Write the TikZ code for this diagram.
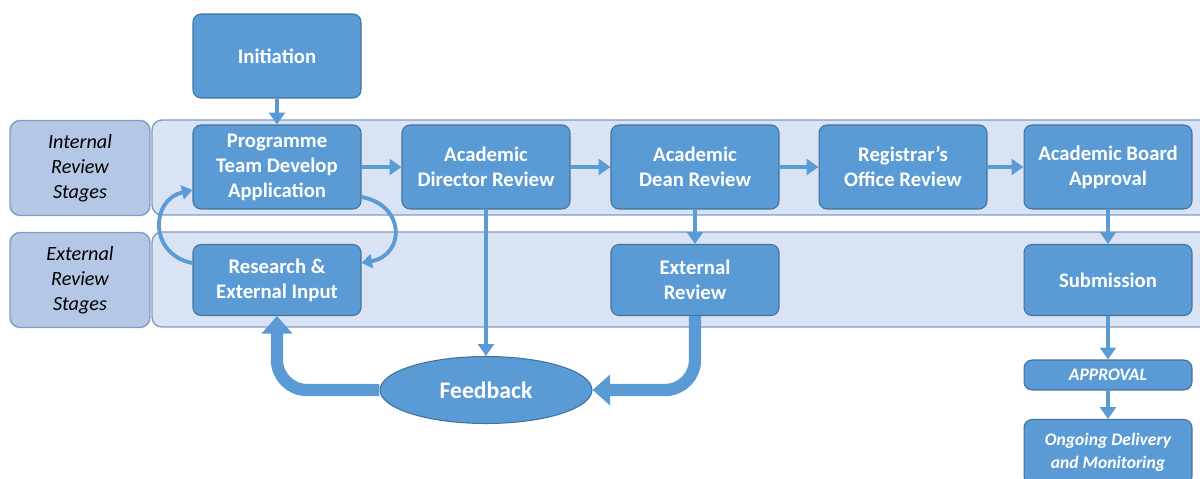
\documentclass[tikz,border=0pt]{standalone}
\usepackage{fontspec}
\setmainfont{Carlito}
\usepackage{tikz}
\usetikzlibrary{positioning,arrows.meta,calc,shapes.geometric}

\definecolor{boxblue}{HTML}{5B9BD5}
\definecolor{boxline}{HTML}{41719C}
\definecolor{bandfill}{HTML}{DAE3F3}
\definecolor{bandline}{HTML}{7F9CC8}
\definecolor{labelfill}{HTML}{B4C7E7}

\tikzset{
  stage/.style={draw=boxline, fill=boxblue, rounded corners=0.16cm, line width=0.6pt,
    minimum width=3.36cm, minimum height=1.68cm, inner sep=0pt, align=center,
    text=white, font=\bfseries\fontsize{11.8}{14.2}\selectfont},
  band/.style={draw=bandline, fill=bandfill, rounded corners=0.2cm, line width=0.8pt},
  bandlabel/.style={draw=bandline, fill=labelfill, rounded corners=0.2cm, line width=0.8pt,
    minimum width=2.8cm, minimum height=1.9cm, inner sep=0pt, align=center,
    font=\itshape\fontsize{11.5}{14.2}\selectfont},
  flow/.style={draw=boxblue, line width=2.8pt, -{Triangle[length=6.8pt,width=9pt]}},
  bigflow/.style={draw=boxblue, line width=7pt, rounded corners=0.6cm,
    -{Triangle[length=10pt,width=17pt]}},
  loopflow/.style={draw=boxblue, line width=2.2pt, -{Triangle[length=6pt,width=8pt]}}
}

\begin{document}
\begin{tikzpicture}[x=0.02cm, y=-0.02cm]
\useasboundingbox (0,0) rectangle (1200,479);

% bands
\draw[band] (152,120) rectangle (1215,215);
\draw[band] (152,232) rectangle (1215,327);
\node[bandlabel] (lblint) at (80,168) {Internal\\Review\\Stages};
\node[bandlabel] (lblext) at (80,280) {External\\Review\\Stages};

% start
\node[stage] (init) at (277,56) {Initiation};

% internal row
\node[stage] (prog) at (277,167) {Programme\\Team Develop\\Application};
\node[stage] (dir) at (486,167) {Academic\\Director Review};
\node[stage] (dean) at (695,167) {Academic\\Dean Review};
\node[stage] (reg) at (903,167) {Registrar's\\Office Review};
\node[stage] (board) at (1108,167) {Academic Board\\Approval};

% external row
\node[stage, minimum height=1.42cm] (research) at (277,280) {Research \&\\External Input};
\node[stage, minimum height=1.42cm] (extrev) at (695,280) {External\\Review};
\node[stage, minimum height=1.42cm] (submit) at (1108,280) {Submission};

% feedback and approval
\node[draw=boxline, fill=boxblue, ellipse, line width=0.6pt, minimum width=4.24cm,
  minimum height=1.34cm, inner sep=0pt, text=white,
  font=\bfseries\fontsize{13.5}{16}\selectfont] (feedback) at (486,390) {Feedback};
\node[stage, minimum height=0.6cm, font=\bfseries\itshape\fontsize{10}{12}\selectfont]
  (approval) at (1108,375) {APPROVAL};
\node[stage, minimum height=1.3cm, font=\bfseries\itshape\fontsize{10}{13}\selectfont]
  (ongoing) at (1108,452) {Ongoing Delivery\\and Monitoring};

% arrows
\draw[flow] (init) -- (prog);
\draw[flow] (prog) -- (dir);
\draw[flow] (dir) -- (dean);
\draw[flow] (dean) -- (reg);
\draw[flow] (reg) -- (board);
\draw[flow] (dir) -- (feedback);
\draw[flow] (dean) -- (extrev);
\draw[flow] (board) -- (submit);
\draw[flow] (submit) -- (approval);
\draw[flow] (approval) -- (ongoing);

\draw[bigflow] (extrev.south) |- (feedback.east);
\draw[bigflow] (feedback.west) -| (research.south);

% loop between develop and research
\draw[loopflow] ($(research.west)+(0,-17)$) .. controls +(-43,-8) and +(-43,10) .. ($(prog.west)+(0,23)$);
\draw[loopflow] ($(prog.east)+(0,30)$) .. controls +(44,8) and +(44,-8) .. ($(research.east)+(0,-17)$);
\end{tikzpicture}
\end{document}
